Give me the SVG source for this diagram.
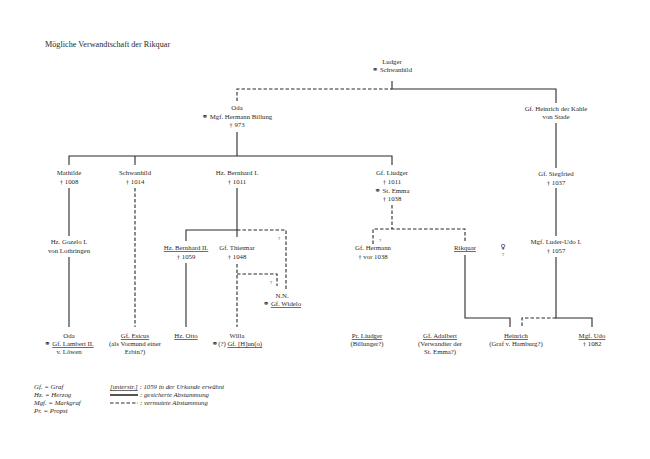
<svg xmlns="http://www.w3.org/2000/svg" width="650" height="459" viewBox="0 0 650 459">
<style>
text{font-family:"Liberation Serif","DejaVu Serif",serif;font-size:6.8px;fill:#2a2a2a;text-anchor:middle}
.t{font-size:8.2px;text-anchor:start}
.lg{font-style:italic;text-anchor:start}
.u{text-decoration:underline}
.s{fill:none;stroke:#2a2a2a;stroke-width:1.1}
.d{fill:none;stroke:#2a2a2a;stroke-width:1.1;stroke-dasharray:3.5 2}
.sym{font-family:"DejaVu Sans",sans-serif;font-size:7.5px}
</style>
<rect width="650" height="459" fill="#fff"/>
<text class="t" x="45" y="47">Mögliche Verwandtschaft der Rikquar</text>

<g id="connectors">
<path class="d" d="M237,101 V89 H392"/>
<path class="s" d="M392,81 V89 H556 V103"/>
<path class="s" d="M237,132 V156 M69,165 V156 H392 V165 M135,156 V165"/>
<path class="s" d="M69,188 V236 M69,257 V327"/>
<path class="d" d="M135,188 V327"/>
<path class="s" d="M237,188 V237 M237,230 H186 V241"/>
<path class="d" d="M237,230 H286 V289"/>
<path class="s" d="M186,263 V327"/>
<path class="d" d="M237,264 V327 M237,274 H277 V286"/>
<path class="d" d="M392,205 V229 M373,244 V229 H465 V241"/>
<path class="s" d="M465,255 V318 H510 V327"/>
<path class="s" d="M556,123 V168 M556,188 V236"/>
<path class="s" d="M556,257 V318 H592 V327"/>
<path class="d" d="M556,318 H522 V327"/>
<text x="279" y="240" style="font-size:5px">?</text>
<text x="271" y="284" style="font-size:5px">?</text>
<text x="380" y="242" style="font-size:5px">?</text>
</g>

<g id="ludger"><text x="392" y="64">Ludger</text><text x="392" y="72"><tspan class="sym">⚭</tspan> Schwanhild</text></g>
<g id="oda"><text x="237" y="110">Oda</text><text x="237" y="119"><tspan class="sym">⚭</tspan> Mgf. Hermann Billung</text><text x="237" y="127">† 973</text></g>
<g id="heinrich-kahle"><text x="556" y="111">Gf. Heinrich der Kahle</text><text x="556" y="119">von Stade</text></g>
<g id="mathilde"><text x="69" y="175">Mathilde</text><text x="69" y="184">† 1008</text></g>
<g id="schwanhild"><text x="135" y="175">Schwanhild</text><text x="135" y="184">† 1014</text></g>
<g id="bernhard1"><text x="237" y="175">Hz. Bernhard I.</text><text x="237" y="184">† 1011</text></g>
<g id="liudger"><text x="392" y="175">Gf. Liudger</text><text x="392" y="184">† 1011</text><text x="392" y="193"><tspan class="sym">⚭</tspan> St. Emma</text><text x="392" y="201">† 1038</text></g>
<g id="siegfried"><text x="556" y="176">Gf. Siegfried</text><text x="556" y="185">† 1037</text></g>
<g id="gozelo"><text x="69" y="244">Hz. Gozelo I.</text><text x="69" y="253">von Lothringen</text></g>
<g id="bernhard2"><text x="186" y="250" class="u">Hz. Bernhard II.</text><text x="186" y="259">† 1059</text></g>
<g id="thietmar"><text x="237" y="250">Gf. Thietmar</text><text x="237" y="259">† 1048</text></g>
<g id="hermann"><text x="373" y="250">Gf. Hermann</text><text x="373" y="259">† vor 1038</text></g>
<g id="rikquar"><text x="465" y="250" class="u">Rikquar</text></g>
<g id="female"><text x="503" y="249" class="sym" style="font-size:7px">♀&#xFE0E;</text><text x="503" y="256" style="font-size:5px">?</text></g>
<g id="luderudo"><text x="556" y="244">Mgf. Luder-Udo I.</text><text x="556" y="253">† 1057</text></g>
<g id="nn"><text x="282" y="298">N.N.</text><text x="282" y="306"><tspan class="sym">⚭</tspan> <tspan class="u">Gf. Widelo</tspan></text></g>
<g id="oda2"><text x="69" y="338">Oda</text><text x="69" y="346"><tspan class="sym">⚭</tspan> <tspan class="u">Gf. Lambert II.</tspan></text><text x="69" y="354">v. Löwen</text></g>
<g id="esicus"><text x="135" y="338" class="u">Gf. Esicus</text><text x="135" y="346">(als Vormund einer</text><text x="135" y="354">Erbin?)</text></g>
<g id="otto"><text x="186" y="338" class="u">Hz. Otto</text></g>
<g id="willa"><text x="237" y="338">Willa</text><text x="237" y="346"><tspan class="sym">⚭</tspan>(?) <tspan class="u">Gf. [H]un(o)</tspan></text></g>
<g id="prliudger"><text x="367" y="338" class="u">Pr. Liudger</text><text x="367" y="346">(Billunger?)</text></g>
<g id="adalbert"><text x="440" y="338" class="u">Gf. Adalbert</text><text x="440" y="346">(Verwandter der</text><text x="440" y="354">St. Emma?)</text></g>
<g id="heinrich"><text x="516" y="338" class="u">Heinrich</text><text x="516" y="346">(Graf v. Hamburg?)</text></g>
<g id="udo"><text x="592" y="338" class="u">Mgf. Udo</text><text x="592" y="346">† 1082</text></g>

<g id="legend">
<text class="lg" x="34" y="389">Gf. = Graf</text>
<text class="lg" x="34" y="397">Hz. = Herzog</text>
<text class="lg" x="34" y="405">Mgf. = Markgraf</text>
<text class="lg" x="34" y="413">Pr. = Propst</text>
<text class="lg" x="110" y="389"><tspan class="u">[unterstr.]</tspan> : 1059 in der Urkunde erwähnt</text>
<path class="s" d="M110,395 H138" style="stroke-width:1.6"/>
<text class="lg" x="140" y="397">: gesicherte Abstammung</text>
<path class="d" d="M110,403 H138"/>
<text class="lg" x="140" y="405">: vermutete Abstammung</text>
</g>
</svg>
